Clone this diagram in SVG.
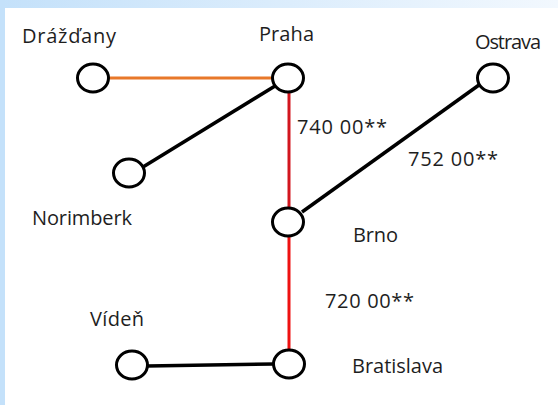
<svg xmlns="http://www.w3.org/2000/svg" width="558" height="405" viewBox="0 0 558 405">
<defs>
<linearGradient id="topg" x1="0" y1="0" x2="1" y2="0">
<stop offset="0" stop-color="#c4e1fa"/>
<stop offset="1" stop-color="#f2f8fe"/>
</linearGradient>
<style>
.node{fill:#fff;stroke:#000;stroke-width:3}
.lbl{font-family:"Open Sans","Noto Sans",sans-serif;font-size:20px;fill:#1e1e1e}
.ln{fill:none;stroke-linecap:butt}
</style>
</defs>
<rect x="0" y="0" width="558" height="405" fill="#fff"/>
<rect x="0" y="0" width="558" height="8" fill="url(#topg)"/>
<rect x="0" y="0" width="5" height="405" fill="#c4e1fa"/>
<g id="connectors">
<line class="ln" x1="108" y1="78" x2="273" y2="78" stroke="#e8782a" stroke-width="3"/>
<line class="ln" x1="275" y1="86" x2="143" y2="167" stroke="#000" stroke-width="3.5"/>
<line class="ln" x1="289" y1="92" x2="289" y2="208" stroke="#d2161e" stroke-width="3"/>
<line class="ln" x1="479" y1="85" x2="302" y2="212" stroke="#000" stroke-width="3.5"/>
<line class="ln" x1="289" y1="236" x2="289" y2="350" stroke="#ee1111" stroke-width="3"/>
<line class="ln" x1="147" y1="366" x2="274" y2="364" stroke="#000" stroke-width="3.5"/>
</g>
<g id="node-drazdany"><ellipse class="node" cx="93" cy="78" rx="15.5" ry="14"/><text class="lbl" x="22" y="43" textLength="94">Drážďany</text></g>
<g id="node-praha"><ellipse class="node" cx="288" cy="78" rx="15.5" ry="14"/><text class="lbl" x="259" y="41" textLength="55">Praha</text></g>
<g id="node-ostrava"><ellipse class="node" cx="493" cy="78" rx="15.5" ry="14"/><text class="lbl" x="475" y="49" textLength="66">Ostrava</text></g>
<g id="node-norimberk"><ellipse class="node" cx="129" cy="173" rx="15.5" ry="14"/><text class="lbl" x="32" y="225" textLength="100">Norimberk</text></g>
<g id="node-brno"><ellipse class="node" cx="288" cy="222" rx="15.5" ry="14"/><text class="lbl" x="353" y="242" textLength="45">Brno</text></g>
<g id="node-viden"><ellipse class="node" cx="132" cy="365" rx="15.5" ry="14"/><text class="lbl" x="90" y="326" textLength="54">Vídeň</text></g>
<g id="node-bratislava"><ellipse class="node" cx="289" cy="364" rx="15.5" ry="14"/><text class="lbl" x="352" y="373" textLength="91">Bratislava</text></g>
<g id="edge-labels">
<text class="lbl" x="297" y="134" textLength="90">740 00**</text>
<text class="lbl" x="408" y="166" textLength="90">752 00**</text>
<text class="lbl" x="325" y="308" textLength="89">720 00**</text>
</g>
</svg>
